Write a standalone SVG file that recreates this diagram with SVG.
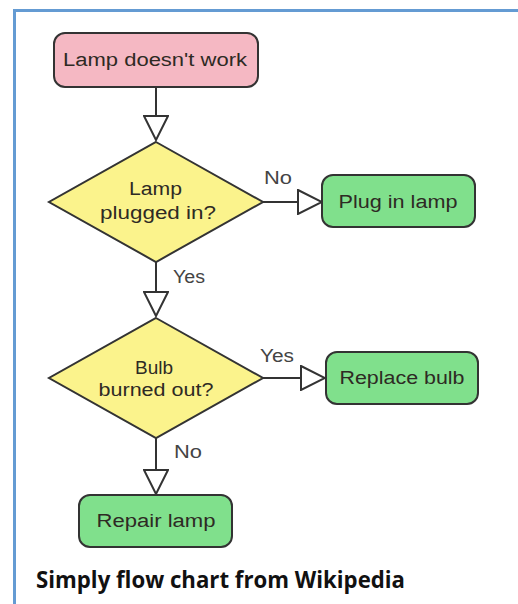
<svg xmlns="http://www.w3.org/2000/svg" width="518" height="604" viewBox="0 0 518 604">
<defs>
<style>
.box{stroke:#333;stroke-width:2}
.start{fill:#f5b8c3}
.end{fill:#80e08c}
.dec{fill:#fbf38c}
.t{font-family:"Liberation Sans",Arial,sans-serif;font-size:18px;text-anchor:middle;fill:#2e2a24}
.lbl{font-family:"Liberation Sans",Arial,sans-serif;font-size:18px;fill:#444}
.conn{stroke:#333;stroke-width:2;fill:none}
.cap{font-family:"Open Sans","Noto Sans",sans-serif;font-size:23px;font-weight:700;fill:#111}
</style>
<marker id="arr" viewBox="0 0 26 26" refX="25" refY="13" markerWidth="26" markerHeight="26" markerUnits="userSpaceOnUse" orient="auto">
<path d="M1,1 L25,13 L1,25 Z" fill="#fff" stroke="#333" stroke-width="2" stroke-linejoin="miter"/>
</marker>
</defs>
<rect width="518" height="604" fill="#fff"/>
<g id="frame">
<path d="M14.5,604 L14.5,10.5 L518,10.5" fill="none" stroke="#649bd3" stroke-width="3"/>
</g>
<g id="connectors">
<path class="conn" d="M156,87 L156,140" marker-end="url(#arr)"/>
<path class="conn" d="M156,262 L156,316" marker-end="url(#arr)"/>
<path class="conn" d="M263,202 L322,202" marker-end="url(#arr)"/>
<path class="conn" d="M263,378 L325,378" marker-end="url(#arr)"/>
<path class="conn" d="M156,438 L156,494" marker-end="url(#arr)"/>
<text class="lbl" x="264" y="184" textLength="28" lengthAdjust="spacingAndGlyphs">No</text>
<text class="lbl" x="173" y="283" textLength="32" lengthAdjust="spacingAndGlyphs">Yes</text>
<text class="lbl" x="260" y="362" textLength="34" lengthAdjust="spacingAndGlyphs">Yes</text>
<text class="lbl" x="174" y="458" textLength="28" lengthAdjust="spacingAndGlyphs">No</text>
</g>
<g id="start">
<rect class="box start" x="54" y="33" width="204" height="54" rx="11"/>
<text class="t" x="155" y="66" textLength="184" lengthAdjust="spacingAndGlyphs">Lamp doesn't work</text>
</g>
<g id="plugged">
<polygon class="box dec" points="156,142 263,202 156,262 49,202"/>
<text class="t" x="155.5" y="195" textLength="53" lengthAdjust="spacingAndGlyphs">Lamp</text>
<text class="t" x="158" y="219" textLength="116" lengthAdjust="spacingAndGlyphs">plugged in?</text>
</g>
<g id="pluglamp">
<rect class="box end" x="322" y="175" width="153" height="52" rx="11"/>
<text class="t" x="398" y="208" textLength="119" lengthAdjust="spacingAndGlyphs">Plug in lamp</text>
</g>
<g id="bulb">
<polygon class="box dec" points="156,318 263,378 156,438 49,378"/>
<text class="t" x="154" y="374" textLength="38" lengthAdjust="spacingAndGlyphs">Bulb</text>
<text class="t" x="156" y="396" textLength="115" lengthAdjust="spacingAndGlyphs">burned out?</text>
</g>
<g id="replace">
<rect class="box end" x="326" y="352" width="152" height="52" rx="11"/>
<text class="t" x="402" y="384" textLength="125" lengthAdjust="spacingAndGlyphs">Replace bulb</text>
</g>
<g id="repair">
<rect class="box end" x="79" y="495" width="153" height="52" rx="11"/>
<text class="t" x="156" y="527" textLength="119" lengthAdjust="spacingAndGlyphs">Repair lamp</text>
</g>
<g id="caption">
<text class="cap" x="36" y="588" textLength="369" lengthAdjust="spacingAndGlyphs">Simply flow chart from Wikipedia</text>
</g>
</svg>
